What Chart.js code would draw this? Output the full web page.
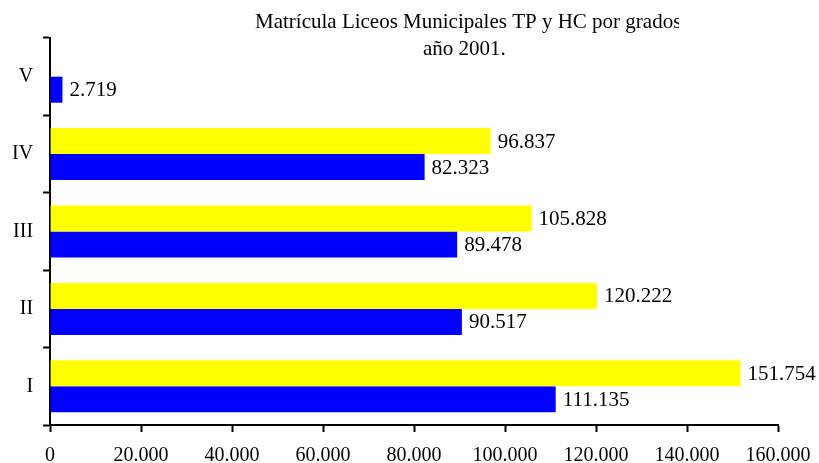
<!DOCTYPE html>
<html>
<head>
<meta charset="utf-8">
<script src="https://cdn.jsdelivr.net/npm/chart.js@4/dist/chart.umd.min.js"></script>
<style>
  html, body { margin: 0; padding: 0; background: #fff; }
  #wrap { width: 819px; height: 463px; }
</style>
</head>
<body>
<div id="wrap"><canvas id="chart"></canvas></div>
<script>
const grados = ['I', 'II', 'III', 'IV', 'V'];
const matriculaHC = [151754, 120222, 105828, 96837, null];
const matriculaTP = [111135, 90517, 89478, 82323, 2719];
const tituloLineas = ['Matrícula Liceos Municipales TP y HC por grados', 'año 2001.'];

const fontFamily = "'Liberation Serif', 'Times New Roman', serif";

function miles(n) {
    return String(n).replace(/\B(?=(\d{3})+(?!\d))/g, '.');
}

// value labels at the end of each bar
const valueLabels = {
    id: 'valueLabels',
    afterDatasetsDraw(chart) {
        const ctx = chart.ctx;
        ctx.save();
        ctx.font = '21px ' + fontFamily;
        ctx.fillStyle = '#000';
        ctx.textAlign = 'left';
        ctx.textBaseline = 'middle';
        chart.data.datasets.forEach((ds, i) => {
            const meta = chart.getDatasetMeta(i);
            meta.data.forEach((bar, j) => {
                const v = ds.data[j];
                if (v === null || v === undefined) return;
                ctx.fillText(miles(v), bar.x + 7, bar.y + 1);
            });
        });
        ctx.restore();
    }
};

// title, placed like the original (a bit right of centre, cut at the right)
const titleText = {
    id: 'titleText',
    afterDraw(chart) {
        const ctx = chart.ctx;
        ctx.save();
        ctx.beginPath();
        ctx.rect(0, 0, 679, 70);
        ctx.clip();
        ctx.font = '21px ' + fontFamily;
        ctx.fillStyle = '#000';
        ctx.textAlign = 'left';
        ctx.textBaseline = 'alphabetic';
        ctx.fillText(tituloLineas[0], 255, 28);
        ctx.fillText(tituloLineas[1], 423, 55);
        ctx.restore();
    }
};

new Chart(document.getElementById('chart'), {
    type: 'bar',
    data: {
        labels: grados,
        datasets: [{
            label: 'HC',
            data: matriculaHC,
            backgroundColor: '#ffff00',
            borderWidth: 0
        }, {
            label: 'TP',
            data: matriculaTP,
            backgroundColor: '#0000ff',
            borderWidth: 0
        }]
    },
    options: {
        indexAxis: 'y',
        responsive: true,
        maintainAspectRatio: false,
        animation: false,
        datasets: {
            bar: {
                categoryPercentage: 0.672,
                barPercentage: 1
            }
        },
        layout: {
            padding: { top: 38, left: 2, right: 0, bottom: -17 }
        },
        plugins: {
            legend: { display: false },
            title: { display: false },
            tooltip: { enabled: false }
        },
        scales: {
            x: {
                min: 0,
                max: 160000,
                afterFit: s => { s.paddingRight = 41; },
                ticks: {
                    stepSize: 20000,
                    color: '#000',
                    padding: 12,
                    maxRotation: 0,
                    font: { family: fontFamily, size: 20 },
                    callback: v => miles(v)
                },
                grid: {
                    drawOnChartArea: false,
                    drawTicks: true,
                    tickLength: 7,
                    tickWidth: 2,
                    color: '#000'
                },
                border: { display: true, color: '#000', width: 2 }
            },
            y: {
                reverse: true,
                ticks: {
                    color: '#000',
                    padding: 10,
                    font: { family: fontFamily, size: 20 }
                },
                grid: {
                    drawOnChartArea: false,
                    drawTicks: true,
                    tickLength: 7,
                    tickWidth: 2,
                    color: '#000'
                },
                border: { display: true, color: '#000', width: 2 }
            }
        }
    },
    plugins: [valueLabels, titleText]
});
</script>
</body>
</html>
